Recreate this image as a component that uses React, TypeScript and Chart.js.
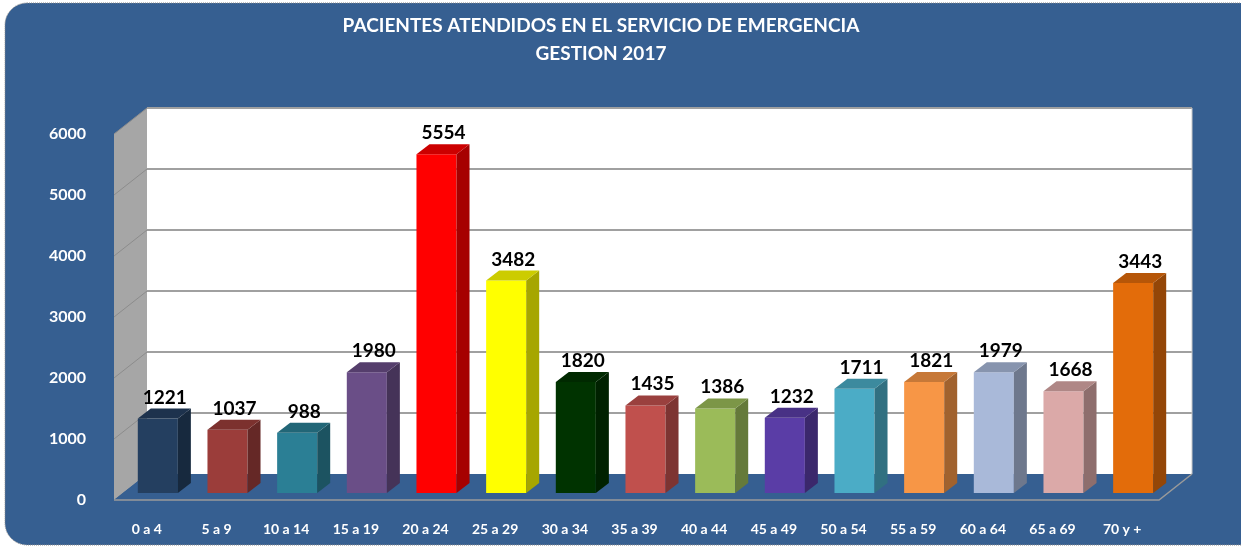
import React, { useEffect, useRef } from "react";
import { Chart, registerables } from "chart.js";

Chart.register(...registerables);

const titleLines = ["PACIENTES ATENDIDOS EN EL SERVICIO DE EMERGENCIA", "GESTION 2017"];
const categories = ["0 a 4", "5 a 9", "10 a 14", "15 a 19", "20 a 24", "25 a 29", "30 a 34", "35 a 39", "40 a 44", "45 a 49", "50 a 54", "55 a 59", "60 a 64", "65 a 69", "70 y +"];
const patients = [1221, 1037, 988, 1980, 5554, 3482, 1820, 1435, 1386, 1232, 1711, 1821, 1979, 1668, 3443];
const yTicks = [0, 1000, 2000, 3000, 4000, 5000, 6000];
const barColors = ["#243F60", "#9B3D3A", "#2B7F95", "#6A4E87", "#FF0000", "#FFFF00", "#003300", "#C0504D", "#9BBB59", "#5A3DA6", "#4BACC6", "#F79646", "#A9B9D9", "#DBA9A8", "#E36C0A"];

const BG = "#365F91";
const FONT = "Lato, 'Open Sans', sans-serif";
const BAR_DX = 13;
const BAR_DY = 10;
const BACK_DX = 24;
const BACK_DY = -19;
const FRONT_DX = -9;
const FRONT_DY = 7;

function shade(hex: string, f: number): string {
  const n = parseInt(hex.slice(1), 16);
  const r = Math.round(((n >> 16) & 255) * f);
  const g = Math.round(((n >> 8) & 255) * f);
  const b = Math.round((n & 255) * f);
  return `rgb(${r},${g},${b})`;
}

function poly(ctx: CanvasRenderingContext2D, pts: number[][], fill?: string, stroke?: string, lw = 1) {
  ctx.beginPath();
  ctx.moveTo(pts[0][0], pts[0][1]);
  for (let i = 1; i < pts.length; i++) ctx.lineTo(pts[i][0], pts[i][1]);
  ctx.closePath();
  if (fill) {
    ctx.fillStyle = fill;
    ctx.fill();
  }
  if (stroke) {
    ctx.strokeStyle = stroke;
    ctx.lineWidth = lw;
    ctx.stroke();
  }
}

const scenePlugin = {
  id: "scene3d",
  beforeDraw(chart: any) {
    const ctx: CanvasRenderingContext2D = chart.ctx;
    const w = chart.width;
    const h = chart.height;
    ctx.save();
    ctx.fillStyle = "#FFFFFF";
    ctx.fillRect(0, 0, w, h);
    const x0 = 5, y0 = 3, x1 = w + 30, y1 = 545, r = 22;
    ctx.beginPath();
    ctx.moveTo(x0 + r, y0);
    ctx.lineTo(x1, y0);
    ctx.lineTo(x1, y1);
    ctx.lineTo(x0 + r, y1);
    ctx.arcTo(x0, y1, x0, y1 - r, r);
    ctx.lineTo(x0, y0 + r);
    ctx.arcTo(x0, y0, x0 + r, y0, r);
    ctx.closePath();
    ctx.fillStyle = BG;
    ctx.fill();
    ctx.strokeStyle = "#8A8A8A";
    ctx.lineWidth = 1;
    ctx.setLineDash([1, 1]);
    ctx.stroke();
    ctx.setLineDash([]);
    // title
    ctx.fillStyle = "#FFFFFF";
    ctx.font = `bold 19px ${FONT}`;
    ctx.textAlign = "center";
    ctx.textBaseline = "middle";
    ctx.fillText(titleLines[0], 601, 26);
    ctx.fillText(titleLines[1], 601, 54);
    ctx.restore();
  },
  beforeDatasetsDraw(chart: any) {
    const ctx: CanvasRenderingContext2D = chart.ctx;
    const { left: L, right: R } = chart.chartArea;
    const ys = chart.scales.y;
    const top = ys.getPixelForValue(6000);
    const bot = ys.getPixelForValue(0);
    ctx.save();
    poly(ctx, [[L + BACK_DX, top + BACK_DY], [R + BACK_DX, top + BACK_DY], [R + BACK_DX, bot + BACK_DY], [L + BACK_DX, bot + BACK_DY]], "#FFFFFF");
    poly(ctx, [[L + FRONT_DX, top + FRONT_DY], [L + BACK_DX, top + BACK_DY], [L + BACK_DX, bot + BACK_DY], [L + FRONT_DX, bot + FRONT_DY]], "#A6A6A6");
    for (const v of yTicks) {
      if (v === 0) continue;
      const y = ys.getPixelForValue(v);
      ctx.beginPath();
      ctx.moveTo(L + BACK_DX, y + BACK_DY);
      ctx.lineTo(R + BACK_DX, y + BACK_DY);
      ctx.strokeStyle = "#A0A0A0";
      ctx.lineWidth = 2;
      ctx.stroke();
      ctx.beginPath();
      ctx.moveTo(L + FRONT_DX, y + FRONT_DY);
      ctx.lineTo(L + BACK_DX, y + BACK_DY);
      ctx.strokeStyle = "#8C8C8C";
      ctx.lineWidth = 1;
      ctx.stroke();
    }
    ctx.beginPath();
    ctx.moveTo(R + BACK_DX, top + BACK_DY);
    ctx.lineTo(R + BACK_DX, bot + BACK_DY);
    ctx.strokeStyle = "#C8C8C8";
    ctx.lineWidth = 1;
    ctx.stroke();
    poly(ctx, [[L + FRONT_DX, bot + FRONT_DY], [L + BACK_DX, bot + BACK_DY], [R + BACK_DX, bot + BACK_DY], [R + FRONT_DX, bot + FRONT_DY]], BG);
    ctx.beginPath();
    ctx.moveTo(L + FRONT_DX, bot + FRONT_DY);
    ctx.lineTo(R + FRONT_DX, bot + FRONT_DY);
    ctx.lineTo(R + BACK_DX, bot + BACK_DY);
    ctx.strokeStyle = "#9A9A9A";
    ctx.lineWidth = 1.5;
    ctx.stroke();
    ctx.restore();
  },
  afterDatasetsDraw(chart: any) {
    const ctx: CanvasRenderingContext2D = chart.ctx;
    const meta = chart.getDatasetMeta(0);
    ctx.save();
    meta.data.forEach((bar: any, i: number) => {
      const p = bar.getProps(["x", "y", "width", "base"], true);
      const xl = p.x - p.width / 2;
      const xr = p.x + p.width / 2;
      const c = barColors[i];
      poly(ctx, [[xr, p.y], [xr + BAR_DX, p.y - BAR_DY], [xr + BAR_DX, p.base - BAR_DY], [xr, p.base]], shade(c, 0.65));
      poly(ctx, [[xl, p.y], [xl + BAR_DX, p.y - BAR_DY], [xr + BAR_DX, p.y - BAR_DY], [xr, p.y]], shade(c, 0.8));
      ctx.fillStyle = "#000000";
      ctx.font = `bold 19px ${FONT}`;
      ctx.textAlign = "center";
      ctx.textBaseline = "alphabetic";
      ctx.fillText(String(patients[i]), p.x + 7, p.y - 15);
    });
    ctx.restore();
  },
};

export default function App() {
  const ref = useRef<HTMLCanvasElement | null>(null);
  useEffect(() => {
    if (!ref.current) return;
    const chart = new Chart(ref.current, {
      type: "bar",
      data: {
        labels: categories,
        datasets: [
          {
            data: patients,
            backgroundColor: barColors,
            borderWidth: 0,
            barPercentage: 0.575,
            categoryPercentage: 1,
          },
        ],
      },
      options: {
        responsive: false,
        animation: false,
        layout: { padding: { left: 0, right: 73, top: 127, bottom: 0 } },
        plugins: {
          legend: { display: false },
          tooltip: { enabled: false },
          title: { display: false },
        },
        scales: {
          x: {
            grid: { display: false },
            border: { display: false },
            ticks: {
              color: "#FFFFFF",
              font: { family: FONT, size: 14, weight: "bold" },
              padding: 20,
              labelOffset: -11,
              maxRotation: 0,
              autoSkip: false,
            },
            afterFit: (s: any) => {
              s.height = 55;
            },
          },
          y: {
            min: 0,
            max: 6000,
            grid: { display: false },
            border: { display: false },
            afterBuildTicks: (s: any) => {
              s.ticks = yTicks.map((v) => ({ value: v }));
            },
            ticks: {
              color: "#FFFFFF",
              font: { family: FONT, size: 16, weight: "bold" },
              padding: 29,
              labelOffset: 7,
              callback: (v: any) => String(v),
            },
            afterFit: (s: any) => {
              s.width = 123;
            },
          },
        },
      },
      plugins: [scenePlugin],
    } as any);
    return () => chart.destroy();
  }, []);
  return (
    <div style={{ position: "absolute", left: 0, top: 0, width: 1241, height: 548 }}>
      <canvas ref={ref} width={1241} height={548} style={{ width: 1241, height: 548, display: "block" }} />
    </div>
  );
}
